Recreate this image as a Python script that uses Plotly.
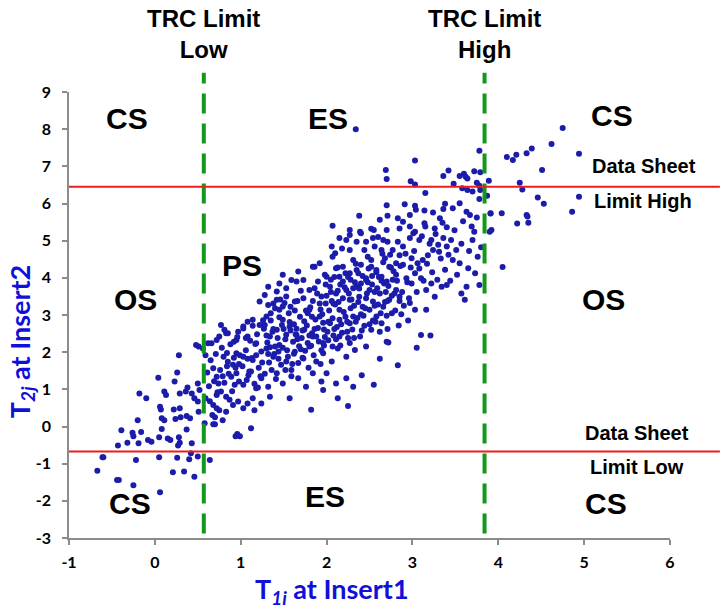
import plotly.graph_objects as go

# Measured pairs (T1i at Insert1, T2j at Insert2), grouped by region of the cloud.
t1_tail = [-0.61, -0.60, -0.67, -0.44, -0.42, -0.25, 0.06, -0.22, 0.05, 0.26,
           0.21, 0.34, 0.46, 0.40, 0.42, 0.50, 0.64, -0.43, -0.32, -0.39,
           -0.26, -0.25, -0.19, -0.16, -0.08, -0.04, 0.05, 0.15, 0.18, 0.28,
           0.27, 0.29, 0.43, -0.20, 0.08, 0.37, 0.08, 0.11, 0.06, 0.07,
           0.22, 0.29, 0.24, 0.30, 0.37, 0.41, 0.51, 0.58, 0.67, 0.70,
           0.68, 0.70, 0.79, 0.83, 0.94, 0.96, 0.99]
t2_tail = [-0.83, -0.83, -1.19, -1.44, -1.44, -1.58, -1.77, -0.90, -0.83, -0.84,
           -1.23, -1.21, -1.35, -0.88, -0.72, -0.81, -0.90, -0.51, -0.44, -0.10,
           -0.17, -0.26, -0.45, -0.15, -0.36, -0.41, -0.29, -0.32, -0.36, -0.29,
           -0.51, -0.44, -0.45, 0.17, -0.07, -0.08, 0.22, 0.17, 0.53, 0.46,
           0.46, 0.49, 0.20, 0.25, 0.28, 0.22, 0.40, 0.09, 0.31, 0.25,
           0.06, 0.06, 0.17, 0.40, -0.26, -0.20, -0.26]

t1_low = [-0.18, -0.10, 0.04, 0.11, 0.13, 0.23, 0.26, 0.29, 0.28, 0.36,
          0.38, 0.43, 0.46, 0.50, 0.48, 0.51, 0.50, 0.52, 0.59, 0.59,
          0.62, 0.68, 0.72, 0.74, 0.68, 0.72, 0.75, 0.72, 0.77, 0.83,
          0.80, 0.85, 0.91, 0.89, 0.93, 0.95, 0.91, 0.97, 1.03, 1.08,
          1.14, 1.16, 1.12, 1.07, 1.10, 1.18, 0.75, 0.83, 0.95, 1.08,
          1.18, 0.95, 1.03, 1.14,
          0.61, 0.63, 0.65, 0.69, 0.71, 0.73, 0.76, 0.78, 0.81, 0.84,
          0.86, 0.88, 0.90, 0.92, 0.94, 0.96, 0.98, 0.99, 0.87, 0.64,
          1.08, 1.12, 1.17, 1.20, 1.06, 0.98, 1.03, 0.92, 0.84, 0.79]
t2_low = [0.89, 0.76, 1.31, 0.94, 0.85, 1.21, 1.45, 0.89, 1.92, 0.94,
          1.05, 0.89, 0.76, 0.67, 2.19, 2.15, 1.16, 0.98, 1.92, 0.76,
          2.24, 1.57, 1.34, 1.16, 0.58, 0.49, 0.44, 0.85, 0.94, 0.80,
          1.88, 1.74, 1.66, 1.34, 1.12, 1.43, 0.58, 0.67, 0.49, 0.62,
          0.76, 0.44, -0.05, 1.25, 1.48, 1.03, 2.42, 2.51, 2.33, 2.42,
          2.24, 1.97, 1.88, 1.79,
          1.45, 1.08, 1.78, 1.22, 1.95, 0.92, 1.52, 2.12, 1.18, 1.98,
          1.42, 2.21, 0.95, 1.85, 1.58, 2.41, 1.21, 1.92, 0.72, 0.68,
          1.82, 1.48, 2.22, 1.05, 2.38, 1.68, 1.12, 2.28, 1.62, 1.35]

t1_mid = [1.67, 1.49, 1.59, 1.65, 1.32, 1.45, 1.53, 1.42, 1.22, 1.32,
          1.42, 1.49, 1.08, 1.14, 1.22, 1.30, 0.77, 0.81, 0.85, 0.97,
          1.03, 0.56, 0.66, 0.72,
          1.28, 1.38, 1.45, 1.53, 1.63, 1.03, 1.28, 1.34, 1.42, 1.49,
          1.57, 1.65, 1.30, 1.38, 1.45, 1.53, 1.63, 1.73, 1.80, 1.88,
          1.96, 2.06, 2.13, 2.23, 2.33, 1.24, 1.32, 1.42, 1.49, 1.59,
          1.67, 1.76, 1.84, 1.94, 2.00, 2.11, 2.23, 2.31, 1.24, 1.34,
          1.57, 1.96, 2.13,
          1.02, 1.06, 1.09, 1.11, 1.13, 1.16, 1.19, 1.21, 1.24, 1.26,
          1.28, 1.31, 1.33, 1.35, 1.37, 1.39, 1.41, 1.43, 1.45, 1.47,
          1.49, 1.51, 1.53, 1.55, 1.57, 1.59, 1.61, 1.63, 1.65, 1.67,
          1.69, 1.71, 1.73, 1.75, 1.77, 1.79, 1.81, 1.83, 1.85, 1.87,
          1.89, 1.91, 1.93, 1.95, 1.97, 1.99, 1.18, 1.27, 1.44, 1.58,
          1.66, 1.74, 1.82, 1.92, 1.36, 1.48, 1.62, 1.78, 1.88, 1.96,
          1.14, 1.23, 1.34, 1.52, 1.68, 1.84, 1.98, 1.40, 1.56, 1.72,
          2.41, 2.62, 2.83, 3.05, 3.21, 2.55, 1.82, 2.25,
          1.30, 1.35, 1.40, 1.46, 1.50, 1.54, 1.58, 1.62, 1.66, 1.70,
          1.72, 1.76, 1.80, 1.83, 1.86, 1.90, 1.93, 1.97, 2.00, 2.02,
          1.25, 1.32, 1.38, 1.44, 1.52, 1.60, 1.64, 1.70, 1.78, 1.86,
          1.94, 2.02, 2.09, 2.16, 2.24, 2.32]
t2_mid = [4.17, 4.08, 3.94, 3.90, 3.76, 3.85, 3.72, 3.63, 3.36, 3.27,
          3.41, 3.23, 2.82, 2.87, 2.73, 2.96, 2.73, 2.60, 2.51, 2.55,
          2.69, 2.10, 2.24, 2.33,
          3.54, 3.31, 3.14, 3.50, 3.36, 2.64, 2.73, 2.42, 2.60, 2.87,
          2.69, 2.46, 2.10, 1.88, 2.19, 1.75, 2.01, 1.83, 2.15, 1.75,
          1.97, 1.75, 2.10, 1.88, 2.06, 1.30, 1.07, 1.43, 1.16, 1.52,
          1.30, 1.07, 1.43, 1.21, 1.43, 1.16, 1.30, 1.07, 0.62, 0.80,
          0.76, 0.98, 0.76,
          1.62, 2.05, 1.38, 2.31, 1.84, 1.15, 2.48, 1.58, 2.02, 2.86,
          1.42, 2.26, 1.72, 3.05, 2.55, 1.95, 1.28, 2.38, 2.94, 1.66,
          2.12, 3.32, 2.47, 1.88, 2.81, 1.35, 2.28, 3.12, 2.63, 1.71,
          2.95, 2.38, 3.45, 2.04, 2.72, 1.58, 3.21, 2.51, 1.92, 2.88,
          3.58, 2.29, 1.68, 3.02, 2.61, 3.82, 1.92, 2.63, 2.02, 2.58,
          3.38, 2.83, 2.17, 3.31, 1.52, 2.73, 1.96, 3.05, 2.42, 2.79,
          2.71, 1.35, 2.13, 1.52, 2.16, 3.38, 2.41, 3.18, 3.05, 1.85,
          1.38, 1.82, 1.65, 2.12, 2.45, 1.12, 0.45, 0.55,
          2.45, 2.85, 2.15, 3.42, 2.62, 2.05, 3.22, 2.75, 2.35, 3.65,
          2.58, 3.12, 2.45, 2.95, 3.72, 2.65, 3.15, 2.18, 3.52, 2.82,
          1.72, 1.95, 2.62, 1.82, 2.35, 1.68, 2.48, 2.08, 2.25, 2.62,
          2.05, 2.32, 2.62, 2.18, 2.55, 2.38]

t1_core = [3.03, 2.69, 2.70, 2.98, 3.03, 3.15, 3.36, 3.42, 3.55, 3.60,
           3.62, 3.64, 3.72, 3.79, 3.48, 3.58, 3.64, 3.70, 3.75, 3.78,
           3.79, 3.89, 3.87, 3.78, 3.78, 2.70, 2.91, 3.03, 3.38, 3.36,
           3.47, 3.55, 3.63, 3.67, 3.91, 2.07, 2.38, 2.62, 2.71, 2.83,
           2.89, 2.97, 3.04, 3.14, 3.24, 3.32, 2.27, 2.39, 2.52, 2.55,
           2.70, 2.85, 2.97, 3.03, 3.14, 3.15, 3.26, 3.40, 3.72, 3.70,
           3.92, 3.90, 2.15, 2.23, 2.27, 2.35, 2.40, 2.46, 2.54, 2.60,
           2.66, 2.71, 2.83, 2.89, 2.97, 3.01, 3.08, 3.22, 3.30, 3.36,
           3.45, 3.51, 2.06, 2.10, 2.18, 2.27, 2.31, 2.44, 2.48, 2.56,
           2.64, 2.68, 2.77, 2.85, 2.81, 2.89, 2.99, 3.06, 3.12, 3.18,
           3.24, 3.31, 3.40, 3.47, 3.55, 3.65, 3.76, 1.84, 1.92, 1.98,
           2.07, 2.11, 2.19, 2.15, 2.27, 2.35, 2.40, 2.46, 2.52, 2.58,
           2.64, 2.70, 2.73, 2.81, 2.93, 2.99, 3.03, 3.10, 3.16, 3.22,
           3.26, 3.34, 3.40, 3.63, 3.78, 2.81, 2.85, 2.97, 3.03, 3.16,
           3.10, 2.70, 2.72, 3.61, 1.73, 1.80, 1.86, 1.90, 1.94, 2.00,
           2.04, 2.08, 2.11, 2.15, 2.19, 2.23, 2.27, 2.31, 2.35, 2.38,
           2.42, 2.46, 2.50, 2.54, 2.58, 2.62, 2.66, 2.64, 2.73, 2.76,
           2.52, 2.39, 2.27, 2.15, 2.04, 1.92, 1.80, 1.74, 1.96, 2.07,
           2.46, 2.27, 2.15, 1.99, 1.84,
           2.01, 2.03, 2.05, 2.07, 2.09, 2.12, 2.14, 2.16, 2.18, 2.20,
           2.22, 2.24, 2.26, 2.28, 2.30, 2.32, 2.34, 2.36, 2.38, 2.40,
           2.42, 2.44, 2.46, 2.48, 2.50, 2.52, 2.54, 2.56, 2.58, 2.60,
           2.62, 2.64, 2.66, 2.68, 2.70, 2.72, 2.74, 2.76, 2.78, 2.80,
           2.82, 2.84, 2.86, 2.88, 2.90, 2.92, 2.94, 2.96, 2.98, 2.06,
           2.13, 2.21, 2.29, 2.37, 2.45, 2.53, 2.61, 2.69, 2.77, 2.85,
           2.11, 2.25, 2.41, 2.57, 2.71, 2.87, 2.95, 2.33, 2.49, 2.65,
           3.02, 3.05, 3.08, 3.11, 3.13, 3.17, 3.20, 3.23, 3.27, 3.29,
           3.33, 3.35, 3.38, 3.42, 3.44, 3.49, 3.52, 3.57, 3.59, 3.66,
           3.69, 3.73, 3.75, 3.80, 3.57,
           2.05, 2.08, 2.10, 2.13, 2.17, 2.19, 2.22, 2.25, 2.28, 2.31,
           2.34, 2.37, 2.40, 2.43, 2.47, 2.50, 2.53, 2.56, 2.59, 2.63,
           2.67, 2.71, 2.75, 2.79]
t2_core = [7.16, 6.90, 6.66, 6.60, 6.51, 6.28, 6.74, 6.89, 6.74, 6.80,
           6.72, 6.67, 6.87, 6.84, 6.53, 6.41, 6.36, 6.32, 6.56, 6.48,
           6.36, 6.61, 6.21, 6.12, 7.42, 5.95, 5.98, 5.94, 5.99, 5.85,
           5.87, 6.01, 5.78, 5.69, 5.74, 5.40, 5.67, 5.56, 5.67, 5.60,
           5.51, 5.69, 5.83, 5.81, 5.76, 5.60, 5.29, 5.24, 5.32, 5.29,
           5.29, 5.33, 5.38, 5.24, 5.47, 5.38, 5.33, 5.36, 5.24, 5.02,
           5.29, 5.24, 5.07, 5.02, 5.15, 4.97, 5.20, 4.97, 5.07, 5.10,
           5.02, 4.97, 4.97, 4.84, 5.07, 5.20, 5.02, 5.02, 4.89, 5.07,
           5.02, 4.75, 4.84, 4.66, 4.79, 4.75, 4.48, 4.75, 4.57, 4.84,
           4.75, 4.53, 4.75, 4.61, 4.39, 4.35, 4.53, 4.39, 4.48, 4.61,
           4.75, 4.70, 4.84, 4.48, 4.39, 4.26, 4.57, 4.30, 4.39, 4.08,
           4.57, 4.26, 4.30, 4.03, 4.12, 4.21, 4.35, 3.99, 4.30, 4.21,
           4.03, 3.90, 4.30, 4.08, 3.99, 3.85, 4.12, 3.99, 3.67, 3.85,
           3.49, 3.76, 3.81, 3.76, 3.81, 3.67, 3.49, 3.32, 3.14, 3.14,
           2.46, 2.28, 2.26, 3.41, 3.94, 3.67, 4.30, 3.90, 3.50, 4.03,
           3.76, 3.31, 3.58, 3.14, 3.90, 3.67, 3.41, 2.96, 3.76, 3.49,
           3.22, 3.94, 3.67, 3.36, 2.96, 3.58, 3.22, 2.78, 3.41, 3.05,
           2.60, 2.42, 2.25, 2.42, 2.78, 2.96, 3.14, 2.60, 2.25, 2.15,
           2.15, 2.78, 2.87, 3.31, 2.42,
           2.55, 3.12, 3.62, 2.91, 4.02, 2.68, 3.35, 3.82, 2.52, 3.08,
           4.12, 2.82, 3.58, 3.95, 2.61, 3.25, 4.38, 2.92, 3.71, 3.02,
           4.05, 2.71, 3.45, 3.88, 3.14, 4.48, 2.85, 3.62, 4.15, 3.28,
           2.55, 3.92, 4.42, 3.35, 2.98, 3.78, 4.62, 3.52, 4.18, 3.12,
           3.92, 2.72, 4.32, 3.62, 3.25, 4.65, 3.88, 3.45, 4.28, 3.38,
           4.28, 3.75, 3.42, 4.12, 3.18, 3.82, 4.02, 3.62, 3.95, 3.38,
           2.35, 2.38, 2.58, 2.82, 2.62, 3.02, 2.85, 3.88, 4.25, 4.65,
           4.72, 3.62, 4.25, 5.12, 3.92, 4.38, 4.92, 4.15, 5.18, 3.95,
           4.52, 5.48, 4.22, 4.62, 3.92, 5.28, 4.08, 4.92, 5.52, 4.72,
           5.38, 4.12, 5.62, 4.82, 3.58,
           3.95, 2.45, 3.28, 3.65, 2.75, 3.45, 2.95, 4.02, 3.18, 3.72,
           2.82, 3.35, 3.85, 2.98, 3.58, 2.75, 4.05, 3.25, 3.72, 3.05,
           3.85, 3.38, 4.28, 3.58]

t1_right = [4.75, 4.62, 4.39, 4.33, 4.21, 4.17, 4.10, 4.94, 4.51, 4.25,
            4.28, 4.94, 4.46, 4.53, 4.86, 4.33, 4.34, 4.22, 4.35, 4.04,
            3.91, 4.05, 2.34]
t2_right = [8.03, 7.60, 7.48, 7.35, 7.31, 7.17, 7.25, 7.34, 6.90, 6.56,
            6.38, 6.18, 6.16, 5.99, 5.78, 5.69, 5.65, 5.46, 5.48, 5.74,
            5.73, 4.29, 8.00]

# Specification limits
trc_low, trc_high = 0.57, 3.84
sheet_low, sheet_high = -0.67, 6.45

# Zone labels: (text, x, y)
zone_labels = [("CS", -0.32, 8.30), ("ES", 2.02, 8.30), ("CS", 5.32, 8.36),
               ("PS", 1.02, 4.32), ("OS", -0.22, 3.41), ("OS", 5.22, 3.41),
               ("CS", -0.29, -2.06), ("ES", 1.98, -1.87), ("CS", 5.26, -2.06)]
limit_labels = [("Data Sheet", 5.70, 7.01), ("Limit High", 5.69, 6.07),
                ("Data Sheet", 5.61, -0.17), ("Limit Low", 5.61, -1.09)]
trc_labels = [("TRC Limit<br>Low", trc_low), ("TRC Limit<br>High", trc_high)]

xticks = [-1, 0, 1, 2, 3, 4, 5, 6]
yticks = list(range(-3, 10))

t1 = t1_tail + t1_low + t1_mid + t1_core + t1_right
t2 = t2_tail + t2_low + t2_mid + t2_core + t2_right

fig = go.Figure()
fig.add_trace(go.Scatter(
    x=t1, y=t2, mode="markers",
    marker=dict(color="#1c1caa", size=6, line=dict(width=0)),
    hoverinfo="x+y", showlegend=False, cliponaxis=False))

# TRC limits: dashed green verticals running above the plot top
for xv in (trc_low, trc_high):
    fig.add_shape(type="line", xref="x", yref="paper", x0=xv, x1=xv,
                  y0=0.01, y1=1.043,
                  line=dict(color="#12981a", width=4, dash="20px,10px"))
# Data sheet limits: red horizontals reaching to the right edge
for yv in (sheet_low, sheet_high):
    fig.add_shape(type="line", xref="paper", yref="y", x0=0, x1=1.083,
                  y0=yv, y1=yv, line=dict(color="#ee1c1c", width=2))

bold = dict(family="Liberation Sans, Arial, sans-serif", color="black")
for txt, xv, yv in zone_labels:
    fig.add_annotation(x=xv, y=yv, text=txt, showarrow=False,
                       font=dict(size=30, weight="bold", **bold))
for txt, xv, yv in limit_labels:
    fig.add_annotation(x=xv, y=yv, text=txt, showarrow=False,
                       font=dict(size=20, weight="bold", **bold))
for txt, xv in trc_labels:
    fig.add_annotation(x=xv, xref="x", y=1.131, yref="paper", text=txt,
                       showarrow=False, yanchor="middle",
                       font=dict(size=24, weight="bold", **bold))

axis_common = dict(showgrid=False, zeroline=False, showline=True,
                   linecolor="#8c8c8c", linewidth=1.5, ticks="outside",
                   ticklen=5, tickcolor="#8c8c8c", tickwidth=1.5,
                   tickfont=dict(family="Lato, Open Sans, sans-serif",
                                 size=16, color="black", weight="bold"))
fig.update_xaxes(range=[-1, 6], tickmode="array", tickvals=xticks,
                 ticktext=[str(v) for v in xticks], ticklabelstandoff=4,
                 **axis_common)
fig.update_yaxes(range=[-3, 9], tickmode="array", tickvals=yticks,
                 ticktext=[str(v) for v in yticks], ticklabelstandoff=8,
                 **axis_common)

title_font = dict(family="Lato, Open Sans, sans-serif", size=27,
                  color="#1010d8", weight="bold")
fig.add_annotation(xref="paper", yref="paper", x=0.438, y=-0.118,
                   text="T<sub><i>1i</i></sub> at Insert1", showarrow=False,
                   font=title_font, yanchor="middle")
fig.add_annotation(xref="paper", yref="paper", x=-0.079, y=0.44,
                   text="T<sub><i>2j</i></sub> at Insert2", showarrow=False,
                   textangle=-90, font=title_font, xanchor="center")

fig.update_layout(width=725, height=609, plot_bgcolor="white",
                  paper_bgcolor="white",
                  margin=dict(l=69, r=55, t=92, b=71))

fig.write_html("out.html")
